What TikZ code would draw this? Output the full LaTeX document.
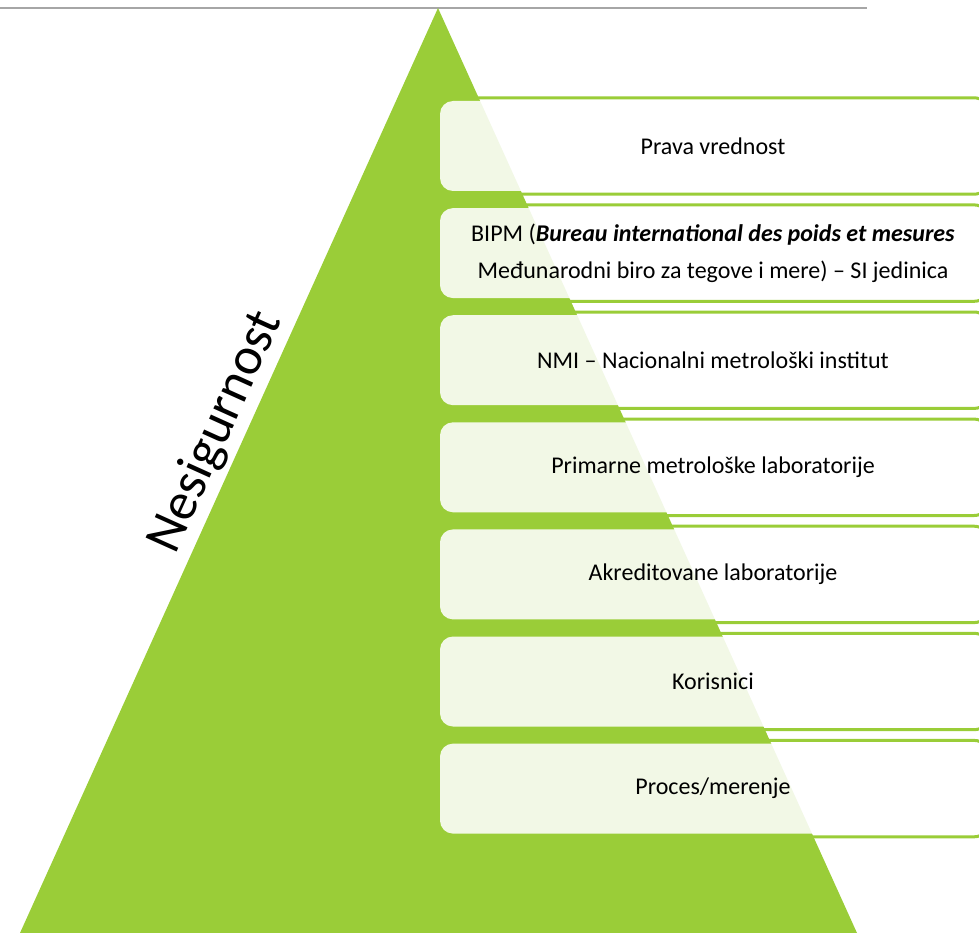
\documentclass[tikz,border=0pt]{standalone}
\usepackage{fontspec}
\setmainfont{Carlito}
\usepackage{xcolor}
\definecolor{LeafGreen}{HTML}{9ACD38}
\definecolor{RuleGray}{HTML}{A6A6A6}
\usepackage{tikz}
\usetikzlibrary{positioning}

\begin{document}
\begin{tikzpicture}[
  x=1pt, y=-1pt,
  node distance=16.7pt,
  tier/.style={rectangle, rounded corners=13pt, fill=white, fill opacity=0.88, text opacity=1, minimum width=546pt, minimum height=90pt, inner sep=0pt, font=\fontsize{24}{37}\selectfont, align=center},
  rim/.style={draw=LeafGreen, line width=3pt, rounded corners=15pt}
]
  \useasboundingbox (0,0) rectangle (979,933);

  % top rule and pyramid
  \draw[RuleGray, line width=1.3pt] (0,8) -- (867,8);
  \fill[LeafGreen] (438,8) -- (857,933) -- (20,933) -- cycle;
  \node[rotate=65.7, font=\fontsize{53}{58}\selectfont] (unc) at (216,432) {Nesigurnost};

  % levels
  \node[tier] (b1) at (713,146) {Prava vrednost};
  \node[tier, below=of b1] (b2) {BIPM (\textbf{\textit{Bureau international des poids et mesures}}\\Međunarodni biro za tegove i mere) – SI jedinica};
  \node[tier, below=of b2] (b3) {NMI – Nacionalni metrološki institut};
  \node[tier, below=of b3] (b4) {Primarne metrološke laboratorije};
  \node[tier, below=of b4] (b5) {Akreditovane laboratorije};
  \node[tier, below=of b5] (b6) {Korisnici};
  \node[tier, below=of b6] (b7) {Proces/merenje};

  \foreach \i in {1,...,7}
    \draw[rim] ([xshift=-3pt,yshift=3pt]b\i.north west) rectangle ([xshift=3pt,yshift=-3pt]b\i.south east);
\end{tikzpicture}
\end{document}
